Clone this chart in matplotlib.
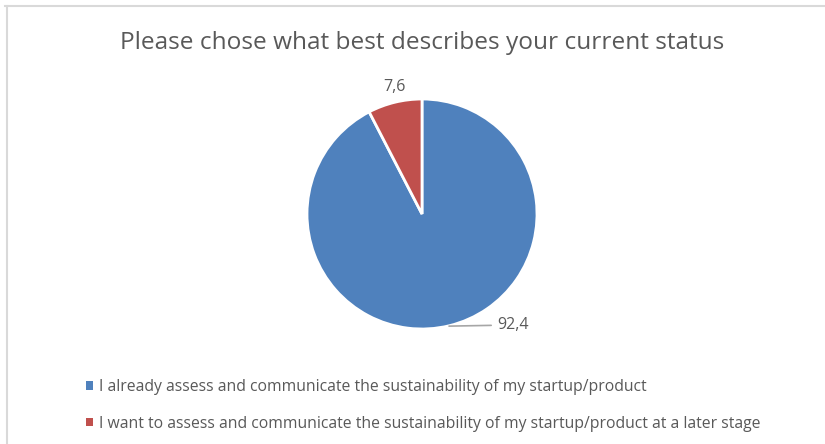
import matplotlib.pyplot as plt
from matplotlib.lines import Line2D
from matplotlib.patches import Patch

# survey answers (percent)
categories = [
    "I already assess and communicate the sustainability of my startup/product",
    "I want to assess and communicate the sustainability of my startup/product at a later stage",
]
shares = [92.4, 7.6]
value_labels = ["92,4", "7,6"]
colors = ["#4F81BD", "#C0504D"]

plt.rcParams["font.family"] = ["Open Sans", "DejaVu Sans"]
text_color = "#595959"

fig = plt.figure(figsize=(8.25, 4.44), dpi=100)
fig.patch.set_facecolor("white")

# light frame along top and left edge
fig.add_artist(Line2D([5 / 825, 824 / 825], [1 - 6.5 / 444] * 2, transform=fig.transFigure,
                      color="#D9D9D9", lw=1.5))
fig.add_artist(Line2D([7 / 825] * 2, [0, 1 - 6.5 / 444], transform=fig.transFigure,
                      color="#D9D9D9", lw=1.5))

fig.text(0.512, 1 - 43 / 444, "Please chose what best describes your current status",
         ha="center", va="center", fontsize=17.6, color=text_color)

# pie area: centre ~ (422, 214) px, radius ~115 px
r = 115
ax = fig.add_axes([(422 - r) / 825, 1 - (214 + r) / 444, 2 * r / 825, 2 * r / 444])
wedges, _ = ax.pie(shares, colors=colors, startangle=90, counterclock=False,
                   wedgeprops=dict(edgecolor="white", linewidth=2))
ax.set_aspect("auto")
ax.set_xlim(-1, 1)
ax.set_ylim(-1, 1)
ax.axis("off")

# data labels
ax.annotate(value_labels[0], xy=(0.235, -0.975), xytext=(0.65, -0.965),
            fontsize=11.5, color=text_color, va="center", ha="left",
            arrowprops=dict(arrowstyle="-", color="#A6A6A6", lw=1.2, shrinkA=2, shrinkB=0))
ax.text(-0.243, 1.10, value_labels[1], fontsize=11.5, color=text_color, ha="center", va="center")

handles = [Patch(facecolor=c, edgecolor="none") for c in colors]
fig.legend(handles, categories, loc="upper left", bbox_to_anchor=(72 / 825, 1 - 365 / 444),
           frameon=False, fontsize=11.3, labelcolor=text_color, handlelength=0.45,
           handleheight=0.45, handletextpad=0.35, labelspacing=1.3)

plt.savefig("out.png", dpi=100)
